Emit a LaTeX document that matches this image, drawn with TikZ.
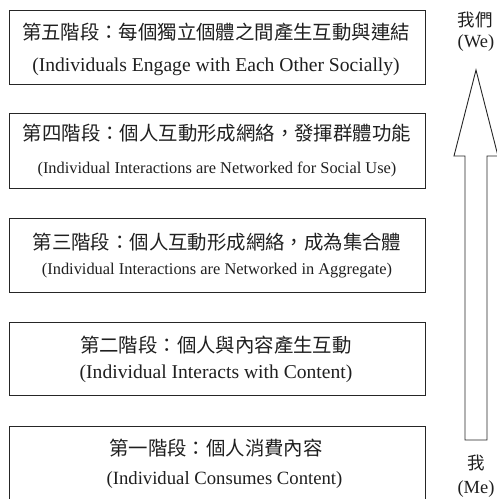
\documentclass[tikz,border=0pt]{standalone}
\usepackage{fontspec}
\setmainfont{Liberation Serif}
\newfontfamily\cjk{Noto Sans CJK TC}
\begin{document}
\begin{tikzpicture}[x=1pt,y=-1pt,
  stagebox/.style={draw=black!85, line width=0.9pt, inner sep=0pt, minimum width=416pt},
  zh/.style={font=\cjk\fontsize{19.4}{22}\selectfont, inner sep=0pt, anchor=base, text=black!88},
  en/.style={font=\fontsize{19.6}{22}\selectfont, inner sep=0pt, anchor=base, text=black!88},
  enmid/.style={font=\fontsize{18.7}{22}\selectfont, inner sep=0pt, anchor=base, text=black!88},
  ensmall/.style={font=\fontsize{16.4}{20}\selectfont, inner sep=0pt, anchor=base, text=black!88},
  side/.style={font=\cjk\fontsize{17.5}{20}\selectfont, inner sep=0pt, text=black!88},
  sideen/.style={font=\fontsize{18.5}{20}\selectfont, inner sep=0pt, text=black!88},
  blockarrow/.style={draw=black!85, line width=0.9pt, line join=miter}]
\useasboundingbox (0,0) rectangle (497,499);

% stage boxes
\node[stagebox, minimum height=74pt] (b5) at (217,47) {};
\node[stagebox, minimum height=75pt] (b4) at (217,150.5) {};
\node[stagebox, minimum height=74pt] (b3) at (217,255) {};
\node[stagebox, minimum height=73pt] (b2) at (217,358.5) {};
\node[stagebox, minimum height=73pt] (b1) at (217,462.5) {};

% texts
\node[zh] (t5) at (216,39) {第五階段：每個獨立個體之間產生互動與連結};
\node[en] (e5) at (216,71) {(Individuals Engage with Each Other Socially)};
\node[zh] (t4) at (217,140) {第四階段：個人互動形成網絡，發揮群體功能};
\node[ensmall] (e4) at (217,173.5) {(Individual Interactions are Networked for Social Use)};
\node[zh] (t3) at (217,249) {第三階段：個人互動形成網絡，成為集合體};
\node[ensmall] (e3) at (217,274.5) {(Individual Interactions are Networked in Aggregate)};
\node[zh] (t2) at (216,352) {第二階段：個人與內容產生互動};
\node[en] (e2) at (216,378) {(Individual Interacts with Content)};
\node[zh] (t1) at (216,455) {第一階段：個人消費內容};
\node[enmid] (e1) at (224.5,484) {(Individual Consumes Content)};

% side labels
\node[side] (we) at (475,20) {我們};
\node[sideen] (ween) at (476,43) {(We)};
\node[side] (me) at (476,463) {我};
\node[sideen] (meen) at (476,489) {(Me)};

% block arrow from Me to We
\coordinate (tip) at (476,70);
\coordinate (hr) at (498,156);
\coordinate (sr) at (487,156);
\coordinate (br) at (487,440);
\coordinate (bl) at (465,440);
\coordinate (sl) at (465,156);
\coordinate (hl) at (454,156);
\draw[blockarrow] (tip) -- (hr) -- (sr) -- (br) -- (bl) -- (sl) -- (hl) -- cycle;
\end{tikzpicture}
\end{document}
